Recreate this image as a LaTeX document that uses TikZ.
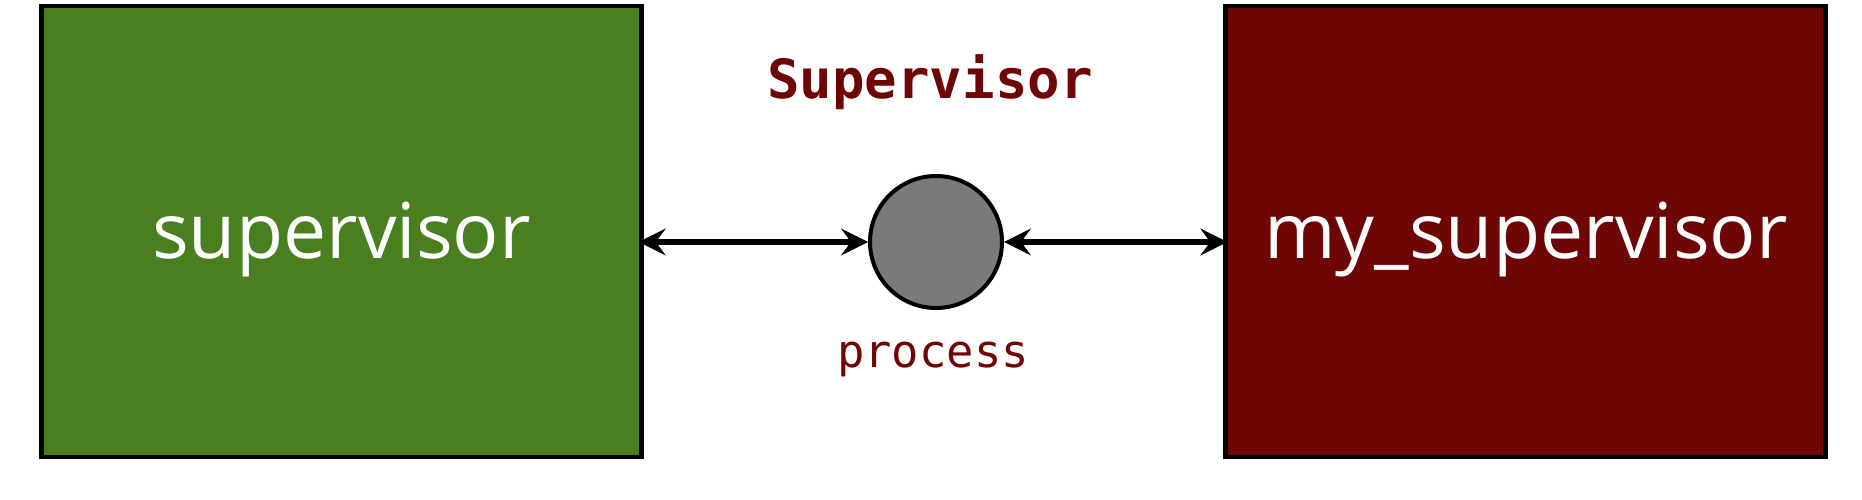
\documentclass[tikz,border=0pt]{standalone}
\usepackage{fontspec}
\setmainfont{Open Sans}
\newfontfamily\monofont{DejaVu Sans Mono}
\usetikzlibrary{arrows.meta}
\definecolor{boxgreen}{HTML}{4A7F20}
\definecolor{boxred}{HTML}{6F0606}
\definecolor{procgray}{HTML}{7A7A7A}
\tikzset{
  bigbox/.style={draw=black, line width=4.5pt, minimum width=600pt, minimum height=451pt, inner sep=0pt},
  boxtext/.style={text=white, inner sep=0pt, anchor=base, font=\fontsize{77}{80}\selectfont},
  procnode/.style={circle, draw=black, line width=4pt, fill=procgray, minimum size=132pt, inner sep=0pt},
  link/.style={line width=5.5pt, {Stealth[length=27pt,width=27pt,inset=10pt,line width=0.5pt]}-{Stealth[length=27pt,width=27pt,inset=10pt,line width=0.5pt]}},
  lbl/.style={text=boxred, inner sep=0pt}
}
\begin{document}
\begin{tikzpicture}[x=1pt,y=1pt]
\useasboundingbox (0,0) rectangle (1862,500);
\node[bigbox, fill=boxgreen] (sup) at (341.5,268.5) {};
\node[bigbox, fill=boxred] (my) at (1525.5,268.5) {};
\node[boxtext] (suptext) at (341.5,241) {supervisor};
\node[boxtext] (mytext) at (1526,241) {my\_supervisor};
\node[procnode] (proc) at (936,258) {};
\node[lbl, font=\monofont\bfseries\fontsize{54}{57}\selectfont] (title) at (930,418) {Supervisor};
\node[lbl, font=\monofont\fontsize{45.5}{48}\selectfont] (plabel) at (933,141) {process};
\draw[link, shorten <=-5pt] (sup.east |- proc.west) -- (proc.west);
\draw[link, shorten >=-4pt] (proc.east) -- (my.west |- proc.east);
\end{tikzpicture}
\end{document}
